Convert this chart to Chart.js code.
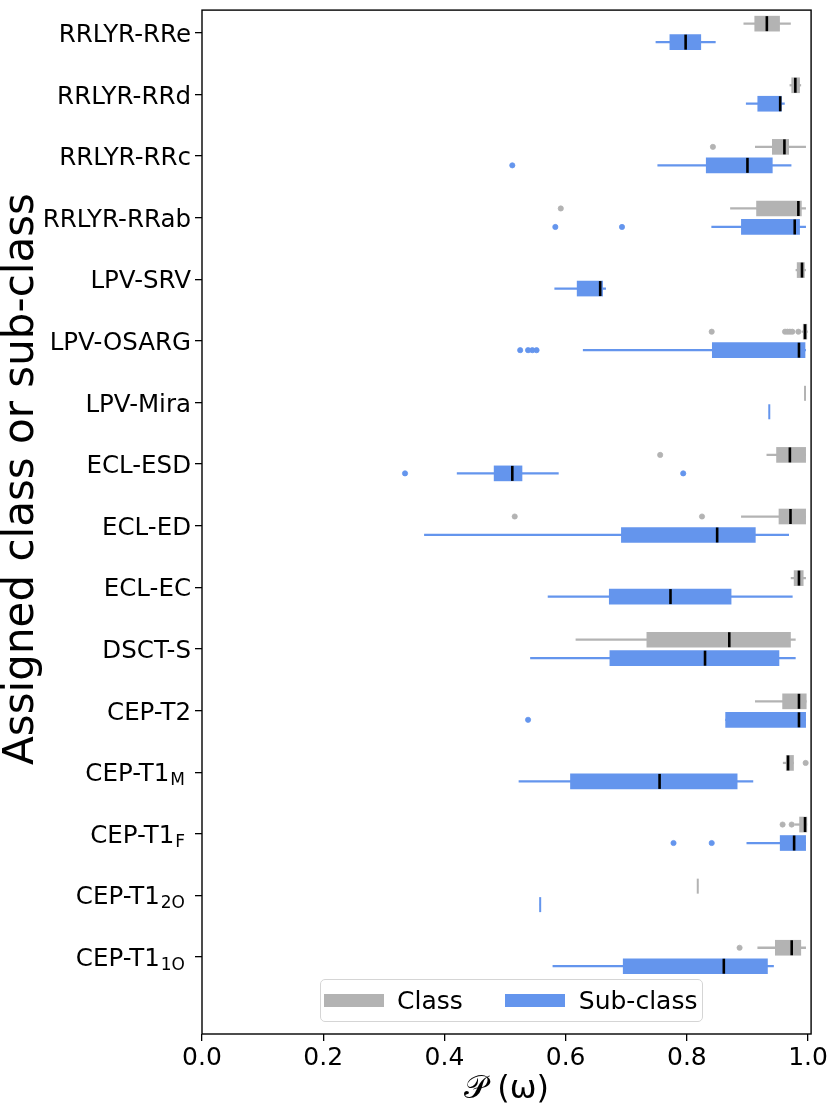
<!DOCTYPE html>
<html>
<head>
<meta charset="utf-8">
<script src="https://cdn.jsdelivr.net/npm/chart.js@4.4.1/dist/chart.umd.min.js"></script>
<style>
  body { margin: 0; background: #fff; }
  #wrap { position: relative; width: 830px; height: 1109px; }
  #legend {
    position: absolute; left: 320px; top: 979px; width: 383px; height: 43px;
    border: 1.3px solid #d5d5d5; border-radius: 5px; background: rgba(255,255,255,0.8);
    display: flex; align-items: center; font-family: "DejaVu Sans"; font-size: 25px; color: #000;
    box-sizing: border-box;
  }
  .patch { display: inline-block; width: 60px; height: 13px; }
</style>
</head>
<body>
<div id="wrap">
  <canvas id="myChart" width="830" height="1109"></canvas>
  <div id="legend">
    <span class="patch" style="background:#b3b3b3; margin-left:3px"></span>
    <span style="margin-left:13px">Class</span>
    <span class="patch" style="background:#6495ed; margin-left:42px"></span>
    <span style="margin-left:14px">Sub-class</span>
  </div>
</div>
<script>
// categories, top to bottom (subscripts drawn smaller)
const labels = ['RRLYR-RRe', 'RRLYR-RRd', 'RRLYR-RRc', 'RRLYR-RRab', 'LPV-SRV', 'LPV-OSARG', 'LPV-Mira',
    'ECL-ESD', 'ECL-ED', 'ECL-EC', 'DSCT-S', 'CEP-T2', 'CEP-T1', 'CEP-T1', 'CEP-T1', 'CEP-T1'];
const subs = ['', '', '', '', '', '', '', '', '', '', '', '', 'M', 'F', '2O', '1O'];

// [whisker low, q1, median, q3, whisker high]
const classBoxes = [
    [0.894, 0.912, 0.932, 0.953, 0.971],
    [0.970, 0.973, 0.979, 0.986, 0.988],
    [0.913, 0.941, 0.961, 0.968, 0.996],
    [0.872, 0.915, 0.984, 0.989, 0.996],
    [0.980, 0.982, 0.990, 0.994, 0.996],
    [0.990, 0.992, 0.995, 0.998, 0.999],
    [0.995, 0.995, 0.995, 0.995, 0.995],
    [0.932, 0.948, 0.970, 0.996, 0.996],
    [0.890, 0.952, 0.971, 0.996, 0.996],
    [0.972, 0.977, 0.985, 0.992, 0.996],
    [0.617, 0.734, 0.870, 0.971, 0.979],
    [0.913, 0.958, 0.985, 0.997, 0.997],
    [0.959, 0.964, 0.967, 0.976, 0.976],
    [0.978, 0.986, 0.995, 0.998, 0.998],
    [0.818, 0.818, 0.818, 0.818, 0.818],
    [0.917, 0.946, 0.973, 0.988, 0.996]
];
const subBoxes = [
    [0.749, 0.772, 0.798, 0.823, 0.847],
    [0.898, 0.917, 0.954, 0.956, 0.961],
    [0.752, 0.832, 0.900, 0.941, 0.972],
    [0.841, 0.890, 0.978, 0.986, 0.996],
    [0.582, 0.619, 0.657, 0.661, 0.666],
    [0.629, 0.842, 0.985, 0.995, 0.996],
    [0.936, 0.936, 0.936, 0.936, 0.936],
    [0.421, 0.482, 0.512, 0.528, 0.588],
    [0.367, 0.692, 0.850, 0.913, 0.968],
    [0.571, 0.672, 0.773, 0.873, 0.974],
    [0.542, 0.673, 0.830, 0.952, 0.979],
    [0.864, 0.864, 0.985, 0.996, 0.996],
    [0.523, 0.608, 0.755, 0.883, 0.909],
    [0.899, 0.954, 0.977, 0.996, 0.996],
    [0.558, 0.558, 0.558, 0.558, 0.558],
    [0.579, 0.695, 0.861, 0.933, 0.943]
];

// outliers: [category index, value]
const classOutliers = [[2, 0.843], [3, 0.592], [5, 0.841], [5, 0.962], [5, 0.966], [5, 0.970], [5, 0.974],
    [5, 0.984], [7, 0.756], [8, 0.516], [8, 0.825], [12, 0.996], [13, 0.958], [13, 0.973], [15, 0.887]];
const subOutliers = [[2, 0.512], [3, 0.583], [3, 0.693], [5, 0.525], [5, 0.538], [5, 0.545], [5, 0.552],
    [7, 0.335], [7, 0.794], [11, 0.538], [13, 0.778], [13, 0.841]];

const xTicks = [0.0, 0.2, 0.4, 0.6, 0.8, 1.0];

const GREY = '#b3b3b3';
const BLUE = '#6495ed';
const OFF = 0.15; // class above, sub-class below the tick

function whiskers(boxes, d) {
    return boxes.map((b, i) => ({ x: [b[0], b[4]], y: i + d }));
}
function iqr(boxes, d) {
    return boxes.map((b, i) => ({ x: [b[1], b[3]], y: i + d })).filter(p => p.x[0] !== p.x[1]);
}
function medians(boxes, d) {
    return boxes.map((b, i) => ({ x: b[2], y: i + d, flat: b[1] === b[3] })).filter(p => !p.flat);
}
function flats(boxes, d) {
    return boxes.map((b, i) => ({ x: b[2], y: i + d, flat: b[1] === b[3] })).filter(p => p.flat);
}
function fliers(list, d) {
    return list.map(o => ({ x: o[1], y: o[0] + d }));
}

const barBase = { type: 'bar', indexAxis: 'y', grouped: false, borderWidth: 0 };

const frame = {
    id: 'frame',
    afterDraw(chart) {
        const a = chart.chartArea, ctx = chart.ctx;
        ctx.save();
        ctx.strokeStyle = '#000';
        ctx.lineWidth = 1.4;
        ctx.strokeRect(a.left, a.top, a.right - a.left, a.bottom - a.top);
        ctx.restore();
    }
};

// y tick labels with subscripts, and the y title
const yLabels = {
    id: 'yLabels',
    afterDraw(chart) {
        const ctx = chart.ctx, ys = chart.scales.y;
        ctx.save();
        ctx.fillStyle = '#000';
        ctx.textBaseline = 'alphabetic';
        labels.forEach((name, i) => {
            const y = ys.getPixelForValue(i);
            let x = chart.chartArea.left - 11;
            if (subs[i]) {
                x = chart.chartArea.left - 17;
                ctx.font = '17px "DejaVu Sans"';
                ctx.textAlign = 'right';
                ctx.fillText(subs[i], x, y + 13);
                x -= ctx.measureText(subs[i]).width + 1;
            }
            ctx.font = '24.5px "DejaVu Sans"';
            ctx.textAlign = 'right';
            ctx.fillText(name, x, y + 9);
        });

        ctx.translate(33, 479);
        ctx.rotate(-Math.PI / 2);
        ctx.font = '42px "DejaVu Sans"';
        ctx.textAlign = 'center';
        ctx.fillText('Assigned class or sub-class', 0, 0);
        ctx.restore();
    }
};

Chart.defaults.font.family = '"DejaVu Sans"';
Chart.defaults.color = '#000';

new Chart(document.getElementById('myChart'), {
    type: 'bar',
    data: {
        datasets: [
            Object.assign({}, barBase, { data: whiskers(classBoxes, -OFF), backgroundColor: GREY, barThickness: 1.6, order: 6 }),
            Object.assign({}, barBase, { data: whiskers(subBoxes, OFF), backgroundColor: BLUE, barThickness: 1.6, order: 6 }),
            Object.assign({}, barBase, { data: iqr(classBoxes, -OFF), backgroundColor: GREY, barThickness: 15, order: 5 }),
            Object.assign({}, barBase, { data: iqr(subBoxes, OFF), backgroundColor: BLUE, barThickness: 15, order: 5 }),
            { type: 'scatter', data: flats(classBoxes, -OFF), pointStyle: 'line', rotation: 90, radius: 7.5,
              borderColor: GREY, borderWidth: 2, order: 4 },
            { type: 'scatter', data: flats(subBoxes, OFF), pointStyle: 'line', rotation: 90, radius: 7.5,
              borderColor: BLUE, borderWidth: 2, order: 4 },
            { type: 'scatter', data: fliers(classOutliers, -OFF), pointStyle: 'circle', radius: 2.6,
              backgroundColor: GREY, borderColor: GREY, borderWidth: 0.8, order: 3 },
            { type: 'scatter', data: fliers(subOutliers, OFF), pointStyle: 'circle', radius: 2.6,
              backgroundColor: BLUE, borderColor: BLUE, borderWidth: 0.8, order: 3 },
            { type: 'scatter', data: medians(classBoxes, -OFF).concat(medians(subBoxes, OFF)), pointStyle: 'line',
              rotation: 90, radius: 7.5, borderColor: '#000', borderWidth: 2.6, order: 1 }
        ]
    },
    options: {
        responsive: false,
        devicePixelRatio: 1,
        animation: false,
        indexAxis: 'y',
        layout: { padding: { top: 2, right: 12, left: 0, bottom: 0 } },
        plugins: { legend: { display: false }, tooltip: { enabled: false } },
        scales: {
            x: {
                type: 'linear', position: 'bottom', min: 0, max: 1.005, offset: false,
                afterBuildTicks: s => { s.ticks = xTicks.map(v => ({ value: v })); },
                ticks: { callback: v => v.toFixed(1), font: { size: 25 }, padding: 2, maxRotation: 0, autoSkip: false },
                grid: { drawOnChartArea: false, offset: false, tickLength: 7, color: '#000', lineWidth: 1.3 },
                border: { display: false },
                title: { display: true, text: '\u{1D4AB} (\u03C9)', font: { size: 32 }, padding: { top: 0, bottom: 0 } },
                afterFit: s => { s.height = 75; }
            },
            y: {
                type: 'linear', position: 'left', reverse: true, min: -0.37, max: 16.25, offset: false,
                afterBuildTicks: s => { s.ticks = labels.map((l, i) => ({ value: i })); },
                ticks: { display: false },
                grid: { drawOnChartArea: false, offset: false, tickLength: 7, color: '#000', lineWidth: 1.3 },
                border: { display: false },
                afterFit: s => { s.width = 202; }
            }
        }
    },
    plugins: [frame, yLabels]
});
</script>
</body>
</html>
